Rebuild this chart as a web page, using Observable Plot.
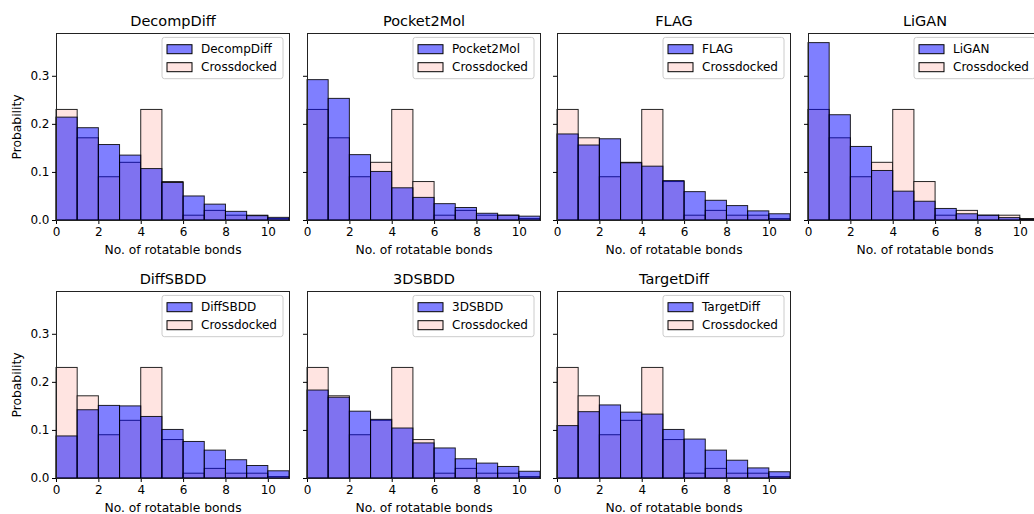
<!DOCTYPE html>
<html>
<head>
<meta charset="utf-8">
<script src="https://cdn.jsdelivr.net/npm/d3@7"></script>
<script src="https://cdn.jsdelivr.net/npm/@observablehq/plot@0.6"></script>
<style>
  html, body { margin: 0; padding: 0; background: white; }
  #chart { position: relative; width: 1034px; height: 514px; overflow: hidden; background: white; font-family: "DejaVu Sans", sans-serif; }
</style>
</head>
<body>
<div id="chart"></div>
<script>
// ---- data (bin start = number of rotatable bonds, bins of width 1) ----
const bins = [0, 1, 2, 3, 4, 5, 6, 7, 8, 9, 10];
const crossdocked = [0.230, 0.171, 0.090, 0.120, 0.230, 0.080, 0.010, 0.020, 0.010, 0.010, 0.003];
const decompDiff  = [0.214, 0.192, 0.157, 0.135, 0.107, 0.078, 0.050, 0.033, 0.018, 0.009, 0.0055];
const pocket2Mol  = [0.292, 0.253, 0.136, 0.101, 0.067, 0.047, 0.034, 0.026, 0.014, 0.010, 0.008];
const flag        = [0.179, 0.156, 0.169, 0.119, 0.112, 0.082, 0.059, 0.041, 0.030, 0.019, 0.013];
const ligan       = [0.369, 0.219, 0.153, 0.103, 0.060, 0.039, 0.024, 0.013, 0.010, 0.005, 0.002];
const diffSBDD    = [0.0875, 0.142, 0.151, 0.150, 0.128, 0.101, 0.076, 0.058, 0.038, 0.026, 0.015];
const threeDSBDD  = [0.183, 0.168, 0.139, 0.122, 0.104, 0.073, 0.0625, 0.040, 0.031, 0.024, 0.014];
const targetDiff  = [0.109, 0.138, 0.152, 0.137, 0.133, 0.101, 0.081, 0.058, 0.037, 0.021, 0.013];

const modelNames = ["DecompDiff", "Pocket2Mol", "FLAG", "LiGAN", "DiffSBDD", "3DSBDD", "TargetDiff"];
const modelValues = [decompDiff, pocket2Mol, flag, ligan, diffSBDD, threeDSBDD, targetDiff];
const yTicks = [0, 0.1, 0.2, 0.3];
const xTicks = [0, 2, 4, 6, 8, 10];
const refName = "Crossdocked";
const xLabel = "No. of rotatable bonds";
const yLabel = "Probability";

// ---- layout ----
const frameW = 233, frameH = 187;
const ml = 56, mr = 8, mt = 34, mb = 42;
const colLeft = [56, 306.5, 557, 807.5];
const rowTop = [33.3, 290.8];
const blueFill = "#0000ff", blueOpacity = 0.5;
const pinkFill = "#ffe4e1";

const container = document.getElementById("chart");

modelNames.forEach((name, i) => {
  const col = i < 4 ? i : i - 4;
  const row = i < 4 ? 0 : 1;
  const vals = modelValues[i];
  const ref = bins.map((b, k) => ({x1: b, x2: b + 1, v: crossdocked[k]}));
  const mod = bins.map((b, k) => ({x1: b, x2: b + 1, v: vals[k]}));
  const left = colLeft[col] - ml;
  const top = rowTop[row] - mt;

  const marks = [
    Plot.rect(ref, {x1: "x1", x2: "x2", y1: d => 0, y2: "v", fill: pinkFill, stroke: "black", strokeOpacity: 0.85, strokeWidth: 1}),
    Plot.rect(mod, {x1: "x1", x2: "x2", y1: d => 0, y2: "v", fill: blueFill, fillOpacity: blueOpacity, stroke: "black", strokeOpacity: 0.85, strokeWidth: 1}),
    Plot.frame({stroke: "#222", strokeWidth: 1}),
    Plot.text([name], {text: d => d, frameAnchor: "top", dy: -12, fontSize: 14.5, fontWeight: "normal", lineAnchor: "middle", fill: "black"}),
    Plot.text([xLabel], {text: d => d, frameAnchor: "bottom", dy: 30, fontSize: 12.3, fontWeight: "normal", lineAnchor: "middle", fill: "black"})
  ];
  if (col === 0) {
    marks.push(Plot.text([yLabel], {text: d => d, frameAnchor: "left", dx: -39, rotate: -90, fontSize: 12.3, fontWeight: "normal", lineAnchor: "middle", textAnchor: "middle", fill: "black"}));
  }

  const svg = Plot.plot({
    width: ml + frameW + mr,
    height: mt + frameH + mb,
    marginLeft: ml, marginRight: mr, marginTop: mt, marginBottom: mb,
    x: {domain: [0, 11], ticks: xTicks, tickSize: 4, tickPadding: 3, label: null, tickFormat: d => String(d)},
    y: {domain: [0, 0.389], ticks: yTicks, tickSize: 4, tickPadding: 3, label: null,
        tickFormat: col === 0 ? (d => d.toFixed(1)) : (d => "")},
    style: {background: "none", maxWidth: "none", overflow: "visible", position: "absolute",
            left: left + "px", top: top + "px", fontFamily: "DejaVu Sans, sans-serif", fontSize: "12px", color: "black"},
    marks
  });

  // legend (upper right inside frame)
  const g = d3.select(svg).append("g")
    .attr("transform", `translate(${ml + 106},${mt + 4.4})`)
    .attr("text-anchor", "start")
    .style("font-family", "DejaVu Sans, sans-serif")
    .style("font-size", "12px");
  g.append("rect").attr("x", 0).attr("y", 0).attr("width", 121).attr("height", 41.3)
    .attr("rx", 2.5).attr("fill", "white").attr("fill-opacity", 0.8).attr("stroke", "#cccccc").attr("stroke-width", 1);
  const entries = [{label: name, fill: blueFill, op: blueOpacity}, {label: refName, fill: pinkFill, op: 1}];
  entries.forEach((e, k) => {
    const yy = 7.3 + k * 18;
    g.append("rect").attr("x", 5).attr("y", yy).attr("width", 25).attr("height", 9)
      .attr("fill", e.fill).attr("fill-opacity", e.op).attr("stroke", "black").attr("stroke-width", 1);
    g.append("text").attr("x", 39).attr("y", yy + 4.5).attr("dy", "0.35em")
      .attr("text-anchor", "start").attr("fill", "black").text(e.label);
  });

  container.appendChild(svg);
});
</script>
</body>
</html>
